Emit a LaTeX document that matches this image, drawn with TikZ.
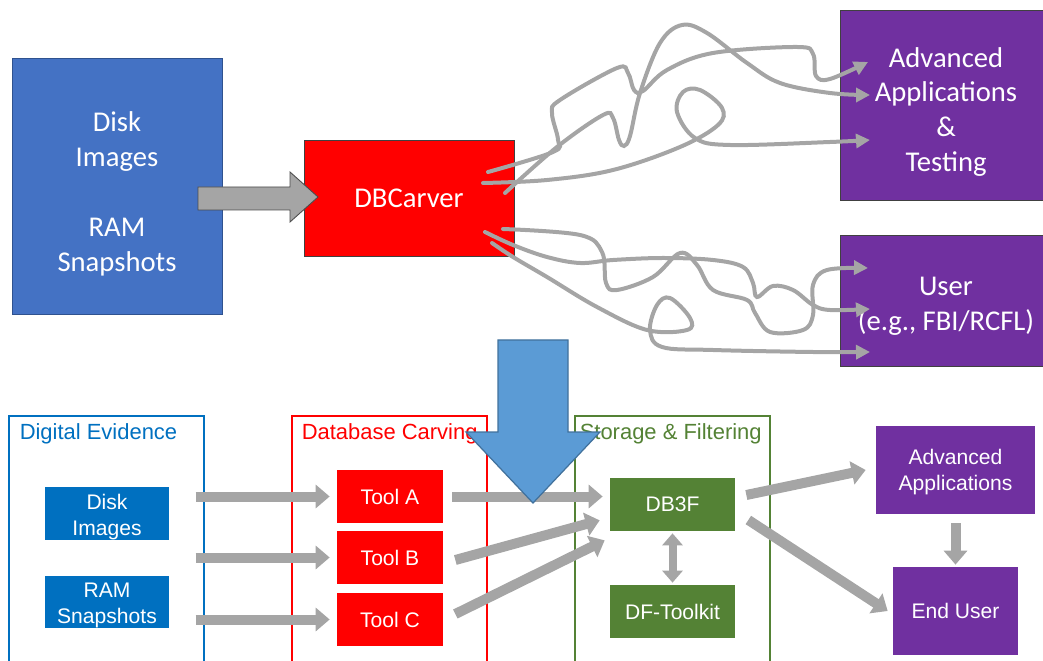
\documentclass[tikz,border=0pt]{standalone}
\usepackage{fontspec}
\setmainfont{Liberation Sans}
\newfontfamily\calfont{Carlito}
\usetikzlibrary{arrows.meta,positioning}

\definecolor{topblue}{HTML}{4472C4}
\definecolor{topblueline}{HTML}{2F528F}
\definecolor{evblue}{HTML}{0070C0}
\definecolor{carvred}{HTML}{FF0000}
\definecolor{storgreen}{HTML}{548235}
\definecolor{apppurple}{HTML}{7030A0}
\definecolor{arrowgray}{HTML}{A5A5A5}
\definecolor{downblue}{HTML}{5B9BD5}
\definecolor{downline}{HTML}{41719C}

\begin{document}
\begin{tikzpicture}[x=0.02cm,y=-0.02cm,
	bigbox/.style={rectangle, draw=black!75, line width=0.5pt, text=white, align=center, inner sep=0pt, font=\calfont\fontsize{16.3}{19.9}\selectfont},
	bigtext/.style={text=white, align=center, inner sep=0pt, font=\calfont\fontsize{16.3}{19.9}\selectfont},
	smallbox/.style={rectangle, text=white, align=center, inner sep=0pt, font=\fontsize{12}{14.8}\selectfont},
	smalltext/.style={text=white, align=center, inner sep=0pt, font=\fontsize{12}{14.8}\selectfont},
	frame/.style={rectangle, line width=0.7pt, minimum width=3.9cm, minimum height=5.1cm, inner sep=0pt},
	ftitle/.style={anchor=north west, inner sep=0pt, font=\fontsize{12.5}{15}\selectfont},
	fat/.style={draw=arrowgray, line width=0.2cm, -{Triangle[length=0.28cm,width=0.46cm]}},
	squig/.style={draw=arrowgray, line width=0.08cm, line cap=round, -{Triangle[length=0.28cm,width=0.28cm]}}]
	\useasboundingbox (0,0) rectangle (1043,661);

	% top half
	\node[bigbox, fill=topblue, draw=topblueline, minimum width=4.2cm, minimum height=5.12cm] (media) at (117,186) {};
	\node[bigtext] (mediatext) at ([yshift=-0.15cm]media.center) {Disk\\Images\\[19.9pt]RAM\\Snapshots};
	\node[bigbox, fill=carvred, minimum width=4.2cm, minimum height=2.32cm] (carver) at (409,198) {DBCarver};
	\node[bigbox, fill=apppurple, minimum width=4.24cm, minimum height=3.8cm] (advtest) at (946,105) {};
	\node[bigtext] (advtesttext) at ([yshift=-0.14cm]advtest.center) {Advanced\\Applications\\\&\\Testing};
	\node[bigbox, fill=apppurple, minimum width=4.24cm, minimum height=2.62cm] (user) at (946,300.5) {};
	\node[bigtext] (usertext) at ([yshift=-0.12cm]user.center) {User\\(e.g., FBI/RCFL)};

	\draw[fill=arrowgray, draw=black!70, line width=0.5pt] (198,187) -- (290,187) -- (290,172) -- (318,197) -- (290,222) -- (290,210) -- (198,210) -- cycle;

	% tangled paths
	\draw[squig] plot[smooth, tension=0.6] coordinates {(488,172) (553,152) (558,140) (552,113) (560,100) (617,68) (628,73) (634,90) (643,91) (667,70) (713,53) (797,47) (813,54) (816,76) (830,79) (868,62)};
	\draw[squig] plot[smooth, tension=0.6] coordinates {(505,193) (557,147) (603,115) (613,118) (619,140) (624,146) (630,136) (640,93) (660,43) (682,25) (707,33) (747,63) (780,83) (830,93) (870,95)};
	\draw[squig] plot[smooth, tension=0.6] coordinates {(483,183) (547,180) (613,170) (680,147) (718,125) (722,108) (700,90) (683,92) (677,112) (695,138) (730,145) (830,142) (870,140)};
	\draw[squig] plot[smooth, tension=0.6] coordinates {(503,229) (580,235) (602,252) (606,283) (617,290) (653,277) (680,253) (697,265) (713,290) (747,300) (755,313) (770,332) (803,330) (813,315) (813,285) (827,270) (868,268)};
	\draw[squig] plot[smooth, tension=0.6] coordinates {(485,232) (513,245) (547,257) (580,263) (613,260) (663,258) (713,260) (743,267) (753,283) (757,297) (773,286) (793,290) (813,305) (830,310) (870,309)};
	\draw[squig] plot[smooth, tension=0.6] coordinates {(492,243) (513,257) (547,277) (597,307) (647,330) (687,330) (690,318) (670,298) (657,305) (650,330) (662,347) (713,350) (813,352) (870,352)};

	% bottom half
	\node[frame, draw=evblue] (evframe) at (106.5,543.5) {};
	\node[frame, draw=carvred] (carvframe) at (389.5,543.5) {};
	\node[frame, draw=storgreen] (storframe) at (672.5,543.5) {};
	\node[ftitle, text=evblue] (evtitle) at ([shift={(0.22cm,-0.16cm)}]evframe.north west) {Digital Evidence};
	\node[ftitle, text=carvred] (carvtitle) at ([shift={(0.2cm,-0.16cm)}]carvframe.north west) {Database Carving};
	\node[ftitle, text=storgreen] (stortitle) at ([shift={(0.1cm,-0.16cm)}]storframe.north west) {Storage \& Filtering};

	\node[smallbox, fill=evblue, minimum width=2.48cm, minimum height=1.06cm] (disk) at (107,513.5) {};
	\node[smalltext] (disktext) at ([yshift=-0.07cm]disk.center) {Disk\\Images};
	\node[smallbox, fill=evblue, minimum width=2.48cm, minimum height=1.06cm] (ram) at (107,602) {};
	\node[smalltext] (ramtext) at ([yshift=-0.07cm]ram.center) {RAM\\Snapshots};
	\node[smallbox, fill=carvred, minimum width=2.12cm, minimum height=1.06cm] (toolA) at (390,496.5) {Tool A};
	\node[smallbox, fill=carvred, minimum width=2.12cm, minimum height=1.06cm] (toolB) at (390,557.5) {Tool B};
	\node[smallbox, fill=carvred, minimum width=2.12cm, minimum height=1.06cm] (toolC) at (390,619.5) {Tool C};
	\node[smallbox, fill=storgreen, minimum width=2.5cm, minimum height=1.06cm] (db3f) at (672.5,504.5) {DB3F};
	\node[smallbox, fill=storgreen, minimum width=2.5cm, minimum height=1.06cm] (dfkit) at (672.5,611.5) {DF-Toolkit};
	\node[smallbox, fill=apppurple, minimum width=3.18cm, minimum height=1.76cm] (adv) at (955.5,470) {};
	\node[smalltext] (advtext) at ([yshift=-0.05cm]adv.center) {Advanced\\Applications};
	\node[smallbox, fill=apppurple, minimum width=2.5cm, minimum height=1.76cm] (enduser) at (955.5,611) {End User};

	\draw[fat] ([xshift=-0.18cm]evframe.east |- toolA) -- ([xshift=-0.14cm]toolA.west);
	\draw[fat] ([xshift=-0.18cm]evframe.east |- toolB) -- ([xshift=-0.14cm]toolB.west);
	\draw[fat] ([xshift=-0.18cm]evframe.east |- toolC) -- ([xshift=-0.14cm]toolC.west);
	\draw[fat] ([xshift=0.18cm]toolA.east) -- ([xshift=-0.14cm]toolA.east -| db3f.west);
	\draw[fat] ([shift={(0.24cm,-0.05cm)}]toolB.east) -- ([shift={(-0.2cm,0.22cm)}]db3f.south west);
	\draw[fat] ([shift={(0.24cm,0.11cm)}]toolC.east) -- ([shift={(-0.1cm,-0.18cm)}]db3f.south west);
	\draw[fat] ([shift={(0.22cm,0.19cm)}]db3f.east) -- ([xshift=-0.2cm]adv.west);
	\draw[fat] ([shift={(0.26cm,-0.31cm)}]db3f.east) -- ([xshift=-0.1cm]enduser.west);
	\draw[fat] ([yshift=-0.18cm]adv.south) -- ([yshift=0.04cm]enduser.north);
	\draw[draw=arrowgray, line width=0.16cm, {Triangle[length=0.24cm,width=0.4cm]}-{Triangle[length=0.24cm,width=0.4cm]}] ([yshift=-0.04cm]db3f.south) -- ([yshift=0.04cm]dfkit.north);

	% big down arrow
	\draw[fill=downblue, draw=downline, line width=0.7pt] (498,340) -- (568,340) -- (568,432) -- (600,432) -- (533,503) -- (466,432) -- (498,432) -- cycle;
\end{tikzpicture}
\end{document}
